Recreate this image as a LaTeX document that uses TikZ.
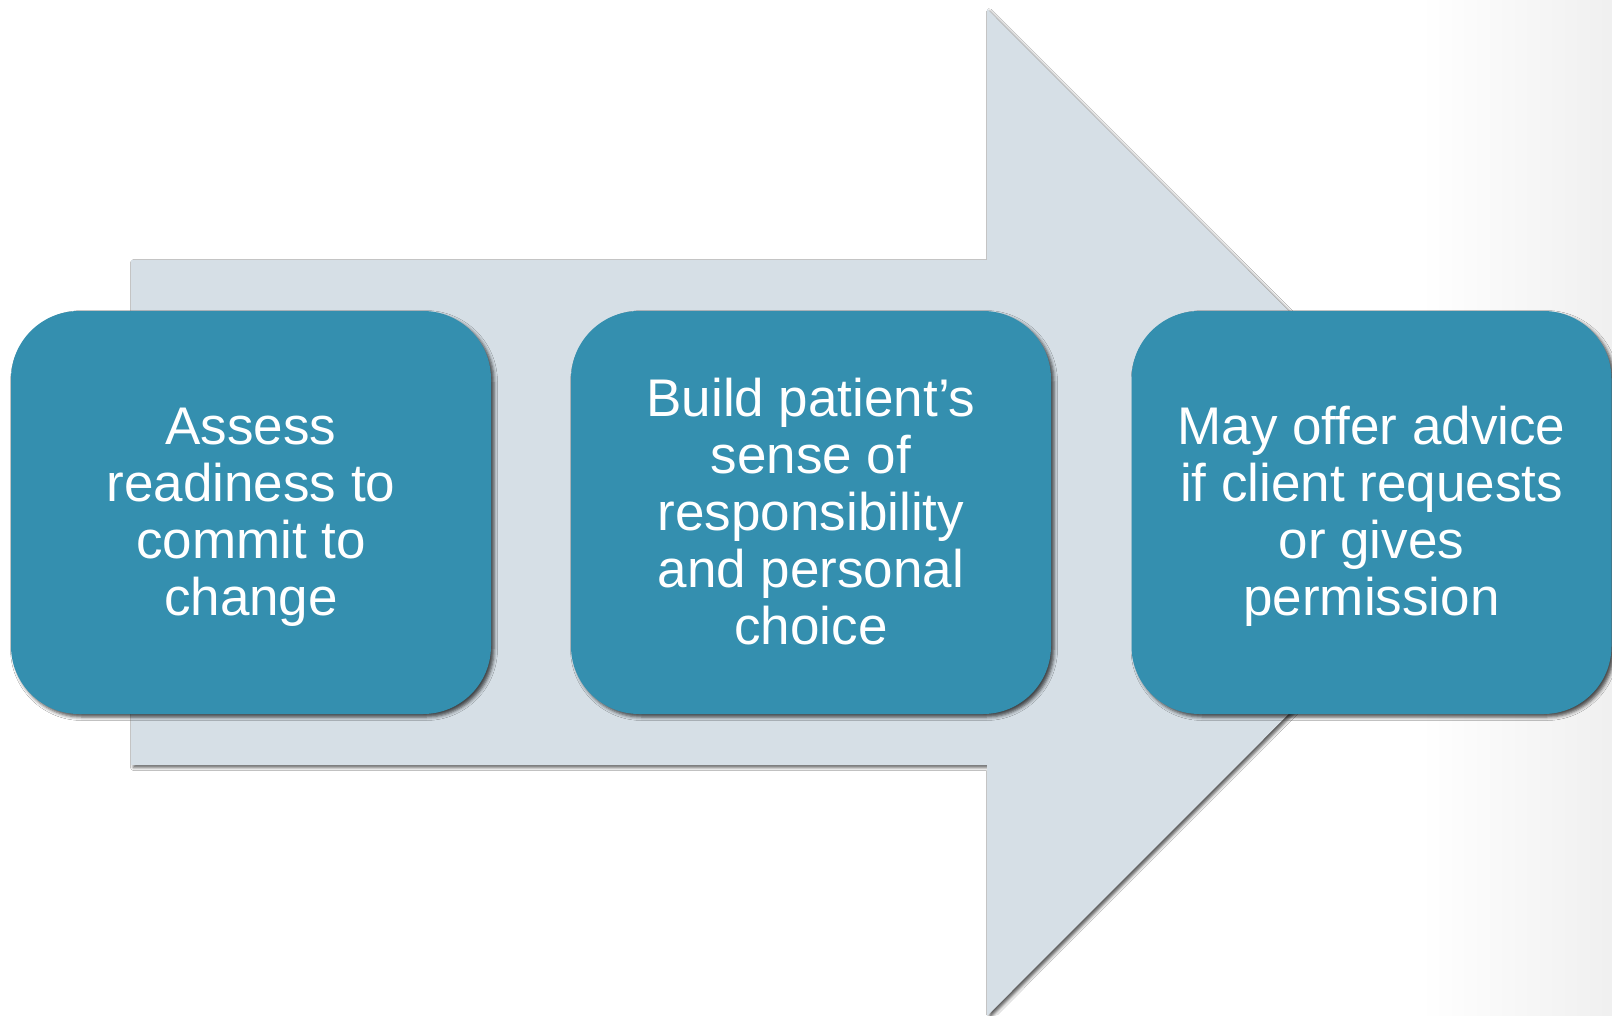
\documentclass[tikz,border=0pt]{standalone}
\usepackage{fontspec}
\setmainfont{Liberation Sans}
\usetikzlibrary{shadows.blur}

\definecolor{boxteal}{HTML}{348FAF}
\definecolor{arrowgray}{HTML}{D6DFE6}

% every text line gets the same 46pt ascent and 11pt descent
\newcommand\lineslot{\rule[-11pt]{0pt}{57pt}}

\begin{document}
\begin{tikzpicture}[x=1pt,y=-1pt,
  stepbox/.style={fill=boxteal, rounded corners=68pt,
    minimum width=480pt, minimum height=403pt, inner sep=0pt,
    text=white, align=center, font=\fontsize{53}{57}\selectfont,
    blur shadow={shadow xshift=3pt, shadow yshift=-3pt,
      shadow blur radius=3.5pt, shadow opacity=70}},
  bigarrow/.style={fill=arrowgray,
    blur shadow={shadow xshift=2.5pt, shadow yshift=-2.5pt,
      shadow blur radius=3pt, shadow opacity=65}}]

% page background with a soft grey fade on the right
\useasboundingbox (0,0) rectangle (1612,1015);
\fill[white] (0,0) rectangle (1612,1015);
\shade[left color=white, right color=black!6] (1420,0) rectangle (1612,1015);

% the large block arrow behind the steps
\path[bigarrow] (131,260) -- (987,260) -- (987,9) -- (1490,512.5)
  -- (987,1016) -- (987,765) -- (131,765) -- cycle;

% the three steps
\node[stepbox] (s1) at (251,512.5)
  {\lineslot Assess\\\lineslot readiness to\\\lineslot commit to\\\lineslot change};
\node[stepbox] (s2) at (811,512.5)
  {\lineslot Build patient’s\\\lineslot sense of\\\lineslot responsibility\\\lineslot and personal\\\lineslot choice};
\node[stepbox] (s3) at (1371.5,512.5)
  {\lineslot May offer advice\\\lineslot if client requests\\\lineslot or gives\\\lineslot permission};
\end{tikzpicture}
\end{document}
